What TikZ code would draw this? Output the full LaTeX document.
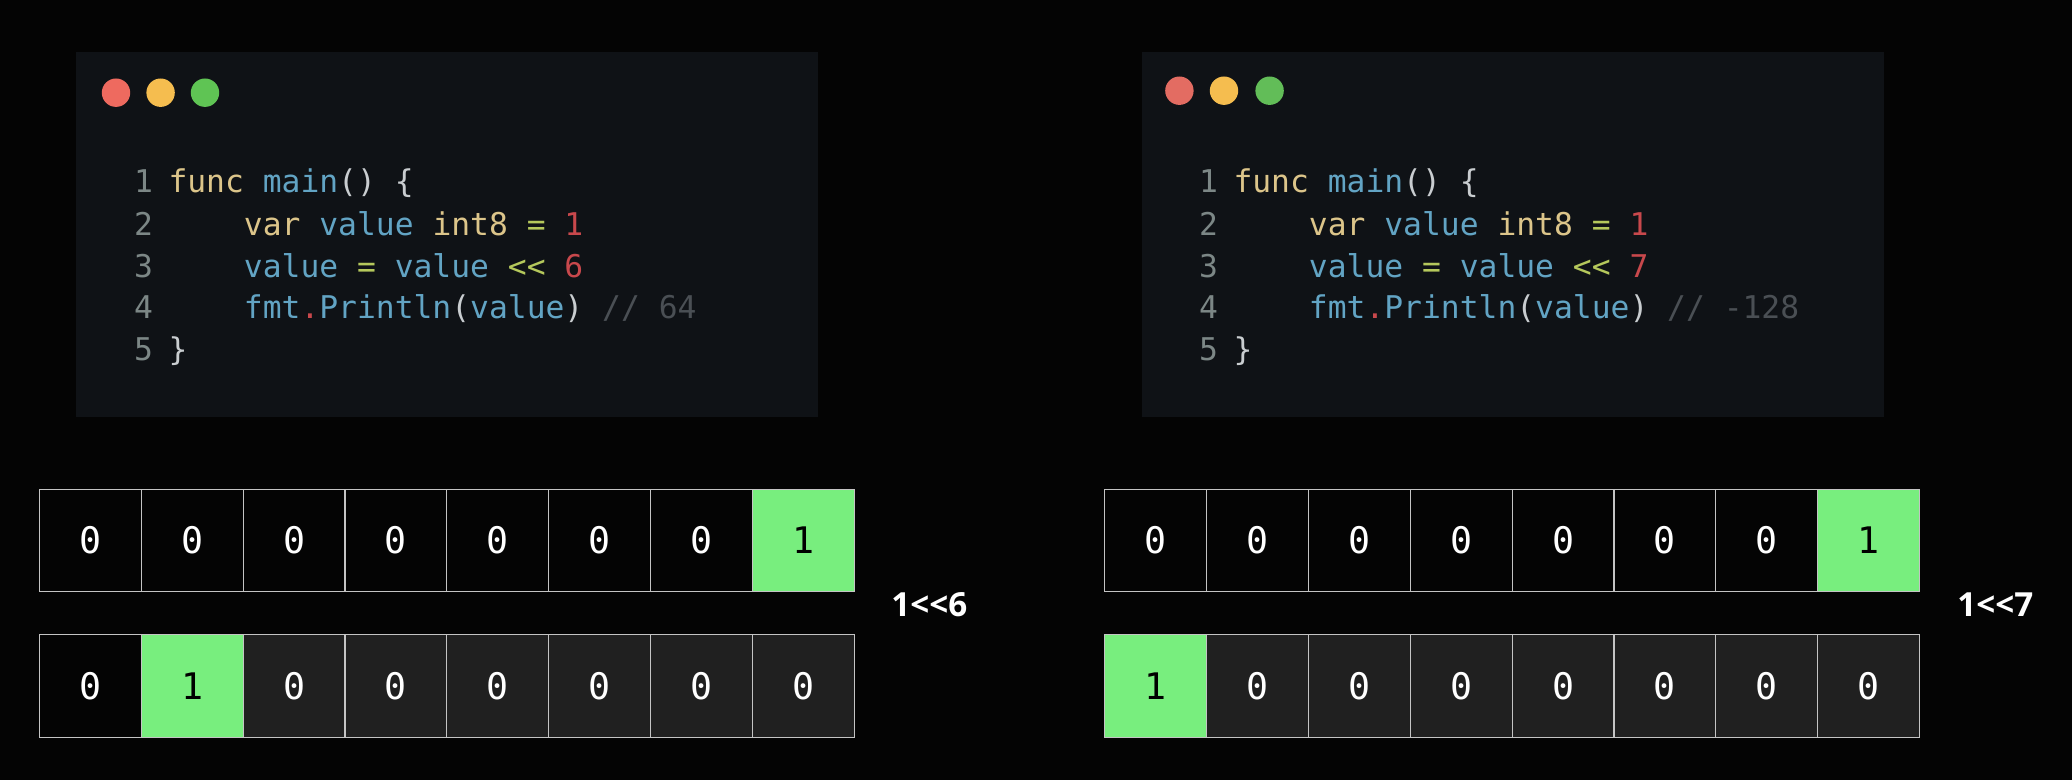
\documentclass[tikz,border=0pt]{standalone}
\usepackage{fontspec}
\setmainfont{Open Sans}
\newfontfamily\codefont{DejaVu Sans Mono}
\definecolor{bgc}{HTML}{040404}
\definecolor{panelc}{HTML}{0F1216}
\definecolor{kw}{HTML}{DCC58A}
\definecolor{id}{HTML}{62A4C4}
\definecolor{num}{HTML}{C8484C}
\definecolor{ln}{HTML}{7C8786}
\definecolor{cm}{HTML}{4A4F54}
\definecolor{op}{HTML}{B5C85C}
\definecolor{pn}{HTML}{C9CDD0}
\definecolor{cellgreen}{HTML}{78EE7E}
\definecolor{celldark}{HTML}{202020}
\definecolor{cellline}{HTML}{C4C4C4}
\definecolor{dotred}{HTML}{EE6A5F}
\definecolor{dotyellow}{HTML}{F5BD4F}
\definecolor{dotgreen}{HTML}{5FC454}
\newcommand{\K}[1]{\textcolor{kw}{#1}}
\newcommand{\I}[1]{\textcolor{id}{#1}}
\newcommand{\N}[1]{\textcolor{num}{#1}}
\newcommand{\LN}[1]{\textcolor{ln}{#1}\hspace{-1.6pt}}
\newcommand{\C}[1]{\textcolor{cm}{#1}}
\newcommand{\OP}[1]{\textcolor{op}{#1}}
\newcommand{\PN}[1]{\textcolor{pn}{#1}}
\tikzset{
  panel/.style={fill=panelc,draw=none,minimum width=741.5*0.5pt,minimum height=365*0.5pt,inner sep=0pt,anchor=north west},
  codeline/.style={anchor=base west,inner sep=0pt,outer sep=0pt,font=\codefont\fontsize{15.66pt}{18pt}\selectfont},
  dot/.style={circle,minimum size=14.2pt,inner sep=0pt,draw=none},
  cellbase/.style={draw=cellline,line width=0.55pt,minimum width=50.95pt,minimum height=51.3pt,inner sep=0pt,outer sep=0pt,font=\codefont\fontsize{18.3pt}{20pt}\selectfont,text=white},
  cellblack/.style={cellbase,fill=bgc},
  cellgrey/.style={cellbase,fill=celldark},
  cellone/.style={cellbase,fill=cellgreen,text=black},
  shiftlabel/.style={anchor=base west,inner sep=0pt,font=\bfseries\fontsize{16.6pt}{18pt}\selectfont,text=white}
}
\begin{document}
\begin{tikzpicture}[x=0.5pt,y=-0.5pt]
\useasboundingbox (0,0) rectangle (2072,780);
\fill[bgc] (0,0) rectangle (2072,780);
% panels
\node[panel] (panelL) at (76,51.5) {};
\node[panel] (panelR) at (1142,51.5) {};
% window dots
\node[dot,fill=dotred] (lr) at (116,92.7) {};
\node[dot,fill=dotyellow] (ly) at (160.6,92.7) {};
\node[dot,fill=dotgreen] (lg) at (205,92.7) {};
\node[dot,fill=dotred!90!gray] (rr) at (1179.4,90.7) {};
\node[dot,fill=dotyellow] (ry) at (1224,90.7) {};
\node[dot,fill=dotgreen!90!gray] (rg) at (1269.6,90.7) {};
% left code
\node[codeline] (la) at (134,193) {\LN{1}\ \K{func}\ \I{main}\PN{()}\ \PN{\{}};
\node[codeline] (lb) at (134,236) {\LN{2}\ \ \ \ \ \K{var}\ \I{value}\ \K{int8}\ \OP{=}\ \N{1}};
\node[codeline] (lc) at (134,278) {\LN{3}\ \ \ \ \ \I{value}\ \OP{=}\ \I{value}\ \OP{<{}<}\ \N{6}};
\node[codeline] (ld) at (134,318.5) {\LN{4}\ \ \ \ \ \I{fmt}\N{.}\I{Println}\PN{(}\I{value}\PN{)}\ \C{//\ 64}};
\node[codeline] (le) at (134,361) {\LN{5}\ \PN{\}}};
% right code
\node[codeline] (ra) at (1199,193) {\LN{1}\ \K{func}\ \I{main}\PN{()}\ \PN{\{}};
\node[codeline] (rb) at (1199,236) {\LN{2}\ \ \ \ \ \K{var}\ \I{value}\ \K{int8}\ \OP{=}\ \N{1}};
\node[codeline] (rc) at (1199,278) {\LN{3}\ \ \ \ \ \I{value}\ \OP{=}\ \I{value}\ \OP{<{}<}\ \N{7}};
\node[codeline] (rd) at (1199,318.5) {\LN{4}\ \ \ \ \ \I{fmt}\N{.}\I{Println}\PN{(}\I{value}\PN{)}\ \C{//\ -128}};
\node[codeline] (re) at (1199,361) {\LN{5}\ \PN{\}}};
% bit rows
\foreach \i in {1,...,7} {
  \node[cellblack] (Lt\i) at ({39.3+101.9*(\i-0.5)},540.5) {0};
  \node[cellblack] (Rt\i) at ({1104.5+101.9*(\i-0.5)},540.5) {0};
}
\node[cellone] (Lt8) at ({39.3+101.9*7.5},540.5) {1};
\node[cellone] (Rt8) at ({1104.5+101.9*7.5},540.5) {1};
\node[cellblack] (Lb1) at ({39.3+101.9*0.5},686) {0};
\node[cellone] (Lb2) at ({39.3+101.9*1.5},686) {1};
\foreach \i in {3,...,8} {
  \node[cellgrey] (Lb\i) at ({39.3+101.9*(\i-0.5)},686) {0};
}
\node[cellone] (Rb1) at ({1104.5+101.9*0.5},686) {1};
\foreach \i in {2,...,8} {
  \node[cellgrey] (Rb\i) at ({1104.5+101.9*(\i-0.5)},686) {0};
}
% labels
\node[shiftlabel] (labL) at (891,616) {1<{}<6};
\node[shiftlabel] (labR) at (1957,616) {1<{}<7};
\end{tikzpicture}
\end{document}
